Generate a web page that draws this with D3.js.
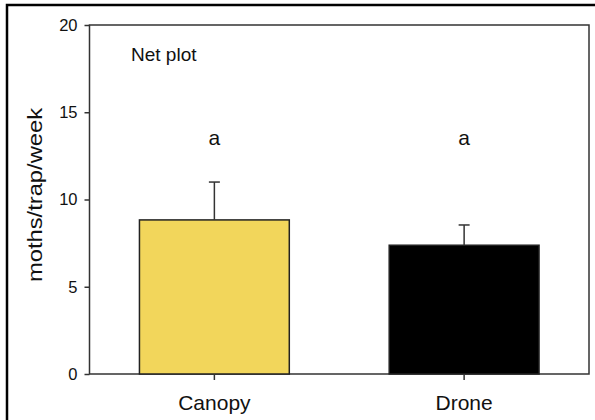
<!DOCTYPE html>
<html>
<head>
<meta charset="utf-8">
<script src="https://cdn.jsdelivr.net/npm/d3@7"></script>
<style>
  html, body { margin: 0; padding: 0; background: #fff; }
  svg { display: block; font-family: Arial, "Liberation Sans", sans-serif; }
</style>
</head>
<body>
<svg id="chart" width="595" height="420"></svg>
<script>
// Mean moth catch per trap per week, net plot
const categories = ["Canopy", "Drone"];
const means = [8.83, 7.38];
const errors = [2.17, 1.16];
const letters = ["a", "a"];
const yTicks = [0, 5, 10, 15, 20];
const colors = ["#f2d65b", "#000000"];

const svg = d3.select("#chart");
const plotLeft = 89.5, plotRight = 589, plotTop = 25, plotBottom = 374;

// outer figure frame (only top and left edges fall within the page)
svg.append("path")
  .attr("d", "M7,430 V5 H600")
  .attr("fill", "none").attr("stroke", "#000").attr("stroke-width", 2.5);

const x = d3.scaleBand().domain(categories).range([plotLeft, plotRight])
  .paddingInner(0.4).paddingOuter(0.2);
const y = d3.scaleLinear().domain([0, 20]).range([plotBottom, plotTop]);

// plot frame
svg.append("rect")
  .attr("x", plotLeft).attr("y", plotTop)
  .attr("width", plotRight - plotLeft).attr("height", plotBottom - plotTop)
  .attr("fill", "none").attr("stroke", "#333").attr("stroke-width", 1.5);

// bars
svg.selectAll("rect.bar").data(categories).enter().append("rect")
  .attr("class", "bar")
  .attr("x", d => x(d))
  .attr("y", (d, i) => y(means[i]))
  .attr("width", x.bandwidth())
  .attr("height", (d, i) => y(0) - y(means[i]))
  .attr("fill", (d, i) => colors[i])
  .attr("stroke", "#222").attr("stroke-width", 1.5);

// error bars (upper only)
const cap = 11;
categories.forEach((c, i) => {
  const cx = x(c) + x.bandwidth() / 2;
  const g = svg.append("g").attr("stroke", "#333").attr("stroke-width", 1.5);
  g.append("line").attr("x1", cx).attr("x2", cx)
    .attr("y1", y(means[i])).attr("y2", y(means[i] + errors[i]));
  g.append("line").attr("x1", cx - cap / 2).attr("x2", cx + cap / 2)
    .attr("y1", y(means[i] + errors[i])).attr("y2", y(means[i] + errors[i]));
  // significance letters
  svg.append("text").attr("x", cx).attr("y", 145)
    .attr("text-anchor", "middle").attr("font-size", 21).attr("fill", "#111")
    .text(letters[i]);
});

// y axis
const yAxis = svg.append("g").attr("transform", `translate(${plotLeft},0)`)
  .call(d3.axisLeft(y).tickValues(yTicks).tickSize(5).tickPadding(7));
yAxis.select(".domain").remove();
yAxis.selectAll("line").attr("stroke", "#333").attr("stroke-width", 1.5);
yAxis.selectAll("text").attr("font-size", 16.5).attr("fill", "#111")
  .attr("font-family", "Arial, 'Liberation Sans', sans-serif");

// x axis
const xAxis = svg.append("g").attr("transform", `translate(0,${plotBottom})`)
  .call(d3.axisBottom(x).tickSize(6).tickPadding(15));
xAxis.select(".domain").remove();
xAxis.selectAll("line").attr("stroke", "#333").attr("stroke-width", 1.5);
xAxis.selectAll("text").attr("font-size", 21).attr("fill", "#111")
  .attr("font-family", "Arial, 'Liberation Sans', sans-serif");

// axis title
svg.append("text")
  .attr("transform", "translate(42,195) rotate(-90)")
  .attr("text-anchor", "middle").attr("font-size", 20.5).attr("fill", "#111")
  .attr("textLength", 174).attr("lengthAdjust", "spacingAndGlyphs")
  .text("moths/trap/week");

// panel label
svg.append("text").attr("x", 131).attr("y", 61)
  .attr("font-size", 19).attr("fill", "#111")
  .text("Net plot");
</script>
</body>
</html>
